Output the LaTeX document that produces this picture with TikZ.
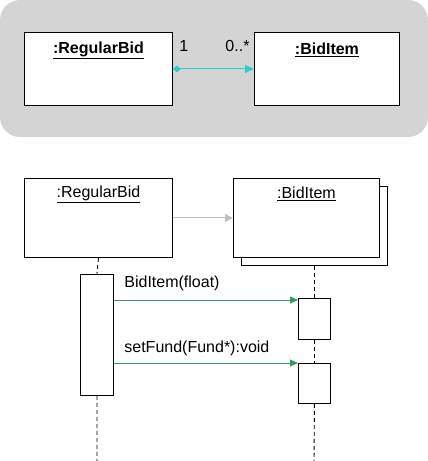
\documentclass[tikz,border=0pt]{standalone}
\usepackage{fontspec}
\setmainfont{Liberation Sans}
\usetikzlibrary{arrows.meta,positioning,backgrounds}
\definecolor{panelgray}{HTML}{D4D4D4}
\definecolor{assoc}{HTML}{33CCCC}
\definecolor{msggreen}{HTML}{339966}
\definecolor{linkgray}{HTML}{C0C0C0}
\newcommand{\umlfont}{\fontsize{16}{19}\selectfont}
\tikzset{
  objbox/.style={
    rectangle, draw=black, fill=white, line width=0.9pt,
    anchor=north west, inner sep=0pt
  },
  actbox/.style={
    rectangle, draw=black, fill=white, line width=0.9pt,
    minimum width=33pt, anchor=north west, inner sep=0pt
  },
  objname/.style={
    font=\umlfont, inner sep=0pt
  },
  msglabel/.style={
    font=\umlfont, inner sep=0pt
  },
  lifeline/.style={
    dashed, dash pattern=on 4pt off 3pt, line width=0.9pt
  },
  assocarrow/.style={
    {Diamond[length=8pt,width=7pt]}-{Triangle[length=9pt,width=8pt]},
    line width=1pt, color=assoc
  },
  linkarrow/.style={
    -{Triangle[length=8pt,width=8pt]}, line width=1pt, color=linkgray
  },
  msgarrow/.style={
    -{Triangle[length=8pt,width=7pt]}, line width=1pt, color=msggreen
  },
}

\begin{document}
\begin{tikzpicture}[x=1pt, y=-1pt]
\useasboundingbox (0,0) rectangle (428,461);

% Collaboration panel
\fill[panelgray, rounded corners=20pt] (0,0) rectangle (428,137);
\node[objbox, minimum width=148pt, minimum height=73pt] (rb-cls) at (24,32) {};
\node[objbox, minimum width=145pt, minimum height=73pt] (bi-cls) at (254,32) {};
\node[objname, font=\umlfont\bfseries] at ([yshift=-18pt]rb-cls.north) {\underline{:RegularBid}};
\node[objname, font=\umlfont\bfseries] at ([yshift=-18pt]bi-cls.north) {\underline{:BidItem}};
\draw[assocarrow] (rb-cls.east) -- (bi-cls.west)
  node[pos=0, anchor=west, msglabel, xshift=6pt, yshift=23pt, text=black] {1}
  node[pos=1, anchor=east, msglabel, xshift=-4pt, yshift=23pt, text=black] {0..*};

% Sequence objects
\node[objbox, minimum width=148pt, minimum height=79pt] (rb-seq) at (24,178) {};
\node[objbox, minimum width=146pt, minimum height=79pt] (bi-back) at (241,186) {};
\node[objbox, minimum width=146pt, minimum height=79pt] (bi-seq) at (233,178) {};
\node[objname] at ([yshift=-16pt]rb-seq.north) {\underline{:RegularBid}};
\node[objname] at ([yshift=-16pt]bi-seq.north) {\underline{:BidItem}};
\draw[linkarrow] (rb-seq.east) -- (bi-seq.west);

% Activations
\node[actbox, minimum height=121pt] (rb-act) at (80,274) {};
\node[actbox, minimum width=32pt, minimum height=41pt] (bi-act1) at (298,298) {};
\node[actbox, minimum width=32pt, minimum height=40pt] (bi-act2) at (298,363) {};
\coordinate (rb-end) at (97,461);
\coordinate (bi-end) at (314,461);
\coordinate (m1-end) at ([yshift=-2pt]bi-act1.north west);

% Lifelines
\draw[lifeline] (rb-seq.south) -- (rb-act.north);
\draw[lifeline] (rb-act.south) -- (rb-end);
\draw[lifeline] (bi-back.south) -- (bi-act1.north);
\draw[lifeline] (bi-act1.south) -- (bi-act2.north);
\draw[lifeline] (bi-act2.south) -- (bi-end);

% Messages
\draw[msgarrow] (rb-act.east |- m1-end) -- (m1-end)
  node[pos=0, anchor=west, msglabel, xshift=10pt, yshift=17pt, text=black] {BidItem(float)};
\draw[msgarrow] (rb-act.east |- bi-act2.north west) -- (bi-act2.north west)
  node[pos=0, anchor=west, msglabel, xshift=10pt, yshift=15pt, text=black] {setFund(Fund*):void};

\end{tikzpicture}
\end{document}
